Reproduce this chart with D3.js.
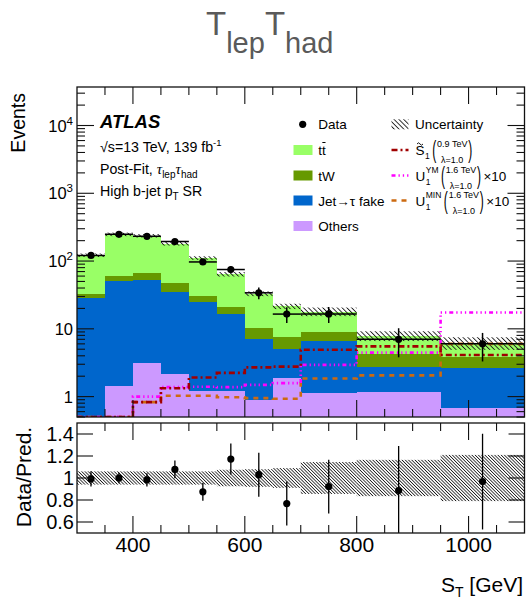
<!DOCTYPE html>
<html>
<head>
<meta charset="utf-8">
<script src="https://cdn.jsdelivr.net/npm/d3@7"></script>
<style>
  body { margin: 0; background: #fff; }
  svg { display: block; }
  text { font-family: "Liberation Sans", Arial, Helvetica, sans-serif; fill: #000; }
</style>
</head>
<body>
<svg id="chart" width="528" height="599"></svg>
<script>
// S_T bins (GeV)
const binEdges = [300, 350, 400, 450, 500, 550, 600, 650, 700, 800, 950, 1100];

// Post-fit background yields per bin
const others  = [0.3, 1.45, 3.1, 2.16, 1.19, 1.19, 0.89, 1.87, 1.12, 1.16, 0.67];
const jetFake = [28.1, 49.5, 49.9, 32.2, 24.1, 15.3, 6.16, 3.13, 5.58, 1.61, 2.01];
const tW      = [4.5, 10, 13, 13.6, 5.7, 4.8, 3.15, 2.5, 2.4, 1.46, 1.22];
const ttbar   = [89, 187, 170, 132, 80, 42.7, 22.8, 14, 8.9, 3.67, 2.3];

// Relative background uncertainty per bin
const bkgRelUnc = [0.06, 0.06, 0.06, 0.06, 0.06, 0.075, 0.08, 0.09, 0.145, 0.165, 0.21];

// Observed data and its uncertainty
const dataCounts = [121, 248, 232, 194, 97, 75, 34, 16.5, 16.6, 7.0, 6.0];
const dataErr    = [8.5, 12, 14, 14.4, 8.9, 9, 6.6, 4.3, 4.4, 3.2, 2.7];

// Signal hypotheses (U1 ones scaled by 10)
const sigS1    = [0.3, 0.3, 0.83, 1.33, 1.91, 2.24, 2.7, 2.77, 4.9, 5.5, 4.1];
const sigU1YM  = [0.3, 0.3, 1.0, 1.38, 1.4, 1.38, 1.49, 1.58, 2.94, 4.46, 17.4];
const sigU1MIN = [0.3, 0.3, 0.83, 1.03, 1.03, 0.98, 0.95, 0.93, 1.85, 2.06, 6.0];

// Axis tick values
const xLabelTicks = [400, 600, 800, 1000];
const yLogLabels = [1, 10, 100, 1000, 10000];
const ratioTicks = [0.6, 0.8, 1, 1.2, 1.4];

const svg = d3.select("#chart");
const X0 = 77, X1 = 524.5;
const TY0 = 87, TY1 = 417;     // main panel
const RY0 = 423, RY1 = 533;    // ratio panel
const yMin = 0.5, yMax = 3.7e4;

const x = d3.scaleLinear().domain([300, 1100]).range([X0, X1]);
const y = d3.scaleLog().domain([yMin, yMax]).range([TY1, TY0]).clamp(true);
const yr = d3.scaleLinear().domain([0.5, 1.5]).range([RY1, RY0]);

const defs = svg.append("defs");
function hatch(id, spacing, sw) {
  const p = defs.append("pattern").attr("id", id)
    .attr("patternUnits", "userSpaceOnUse")
    .attr("width", spacing).attr("height", spacing)
    .attr("patternTransform", "rotate(-45)");
  p.append("rect").attr("x", 0).attr("y", 0).attr("width", sw).attr("height", spacing).attr("fill", "#1a1a1a");
}
hatch("hatchTop", 3.4, 0.9);
hatch("hatchRatio", 2.3, 0.8);
defs.append("clipPath").attr("id", "clipTop").append("rect")
  .attr("x", X0).attr("y", TY0).attr("width", X1 - X0).attr("height", TY1 - TY0);
defs.append("clipPath").attr("id", "clipRatio").append("rect")
  .attr("x", X0).attr("y", RY0).attr("width", X1 - X0).attr("height", RY1 - RY0);

// ---------- Title ----------
const titleColor = "#5a5a5a";
const title = svg.append("text").attr("x", 206).attr("y", 35);
title.append("tspan").attr("font-size", 33).text("T").style("fill", titleColor);
title.append("tspan").attr("font-size", 29).attr("dy", 18).text("lep").style("fill", titleColor);
title.append("tspan").attr("font-size", 33).attr("dy", -18).text("T").style("fill", titleColor);
title.append("tspan").attr("font-size", 29).attr("dy", 18).text("had").style("fill", titleColor);

// ---------- Stacked backgrounds ----------
const keys = ["others", "jetFake", "tW", "ttbar"];
const colors = { others: "#cc99ff", jetFake: "#0066cc", tW: "#669900", ttbar: "#99ff66" };
const rows = binEdges.slice(0, -1).map((lo, i) => ({
  lo, hi: binEdges[i + 1], others: others[i], jetFake: jetFake[i], tW: tW[i], ttbar: ttbar[i]
}));
const series = d3.stack().keys(keys)(rows);
const totals = rows.map(r => keys.reduce((s, k) => s + r[k], 0));

const gTop = svg.append("g").attr("clip-path", "url(#clipTop)");
series.forEach(s => {
  gTop.append("g").selectAll("rect").data(s).enter().append("rect")
    .attr("x", d => x(d.data.lo))
    .attr("width", d => x(d.data.hi) - x(d.data.lo) + 0.4)
    .attr("y", d => y(Math.max(d[1], yMin)))
    .attr("height", d => y(Math.max(d[0], yMin)) - y(Math.max(d[1], yMin)))
    .attr("fill", colors[s.key])
    .attr("shape-rendering", "crispEdges");
});

// Uncertainty band on the total
gTop.append("g").selectAll("rect").data(rows).enter().append("rect")
  .attr("x", d => x(d.lo))
  .attr("width", d => x(d.hi) - x(d.lo))
  .attr("y", (d, i) => y(totals[i] * (1 + bkgRelUnc[i])))
  .attr("height", (d, i) => y(totals[i] * (1 - bkgRelUnc[i])) - y(totals[i] * (1 + bkgRelUnc[i])))
  .attr("fill", "url(#hatchTop)");

// Signal step lines
function stepPoints(vals) {
  const pts = [];
  vals.forEach((v, i) => { pts.push([binEdges[i], v]); pts.push([binEdges[i + 1], v]); });
  return pts;
}
const stepLine = d3.line().x(d => x(d[0])).y(d => y(d[1]));
const signals = [
  { vals: sigU1MIN, color: "#cc6a10", dash: "5,5" },
  { vals: sigU1YM, color: "#ff00ff", dash: "4,3,1.3,3,1.3,3,1.3,3" },
  { vals: sigS1, color: "#a00000", dash: "6,3,2,3" }
];
signals.forEach(s => {
  gTop.append("path").attr("d", stepLine(stepPoints(s.vals)))
    .attr("fill", "none").attr("stroke", s.color).attr("stroke-width", 2.6)
    .attr("stroke-dasharray", s.dash);
});

// Data points
const gData = svg.append("g").attr("clip-path", "url(#clipTop)");
rows.forEach((r, i) => {
  const cx = x((r.lo + r.hi) / 2), cy = y(dataCounts[i]);
  gData.append("line").attr("x1", x(r.lo)).attr("x2", x(r.hi)).attr("y1", cy).attr("y2", cy)
    .attr("stroke", "#000").attr("stroke-width", 1.5);
  gData.append("line").attr("x1", cx).attr("x2", cx)
    .attr("y1", y(dataCounts[i] + dataErr[i])).attr("y2", y(dataCounts[i] - dataErr[i]))
    .attr("stroke", "#000").attr("stroke-width", 1.5);
  gData.append("circle").attr("cx", cx).attr("cy", cy).attr("r", 3.6).attr("fill", "#000");
});

// ---------- Ratio panel ----------
const gR = svg.append("g").attr("clip-path", "url(#clipRatio)");
gR.selectAll("rect.band").data(rows).enter().append("rect")
  .attr("x", d => x(d.lo))
  .attr("width", d => x(d.hi) - x(d.lo))
  .attr("y", (d, i) => yr(1 + bkgRelUnc[i]))
  .attr("height", (d, i) => yr(1 - bkgRelUnc[i]) - yr(1 + bkgRelUnc[i]))
  .attr("fill", "url(#hatchRatio)");
rows.forEach((r, i) => {
  const cx = x((r.lo + r.hi) / 2);
  const ratio = dataCounts[i] / totals[i], err = dataErr[i] / totals[i];
  gR.append("line").attr("x1", cx).attr("x2", cx)
    .attr("y1", yr(ratio + err)).attr("y2", yr(ratio - err))
    .attr("stroke", "#000").attr("stroke-width", 1.3);
  gR.append("circle").attr("cx", cx).attr("cy", yr(ratio)).attr("r", 3.6).attr("fill", "#000");
});

// ---------- Frames and ticks ----------
const axisColor = "#111";
function frame(y0, y1) {
  svg.append("rect").attr("x", X0).attr("y", y0).attr("width", X1 - X0).attr("height", y1 - y0)
    .attr("fill", "none").attr("stroke", axisColor).attr("stroke-width", 1.3);
}
frame(TY0, TY1);
frame(RY0, RY1);

const xTickVals = d3.range(350, 1100, 50);
function xTicks(y0, y1) {
  xTickVals.forEach(v => {
    const len = v % 200 === 0 ? 17 : 8;
    const px = x(v);
    svg.append("line").attr("x1", px).attr("x2", px).attr("y1", y1).attr("y2", y1 - len)
      .attr("stroke", axisColor).attr("stroke-width", 1.1);
    svg.append("line").attr("x1", px).attr("x2", px).attr("y1", y0).attr("y2", y0 + len)
      .attr("stroke", axisColor).attr("stroke-width", 1.1);
  });
}
xTicks(TY0, TY1);
xTicks(RY0, RY1);

// log y ticks
const logTicks = [];
for (let e = -1; e <= 4; e++) {
  for (let m = 1; m <= 9; m++) {
    const v = m * Math.pow(10, e);
    if (v >= yMin && v <= yMax) logTicks.push({ v, major: m === 1 });
  }
}
logTicks.forEach(t => {
  const py = y(t.v), len = t.major ? 17 : 8;
  svg.append("line").attr("x1", X0).attr("x2", X0 + len).attr("y1", py).attr("y2", py)
    .attr("stroke", axisColor).attr("stroke-width", 1.1);
  svg.append("line").attr("x1", X1).attr("x2", X1 - len).attr("y1", py).attr("y2", py)
    .attr("stroke", axisColor).attr("stroke-width", 1.1);
});
yLogLabels.forEach(v => {
  const e = Math.round(Math.log10(v));
  const t = svg.append("text").attr("x", 73).attr("y", y(v) + 6).attr("text-anchor", "end").attr("font-size", 16.5);
  if (e <= 1) t.text(String(v));
  else {
    t.append("tspan").text("10");
    t.append("tspan").attr("font-size", 11.5).attr("dy", -7).text(String(e));
  }
});

ratioTicks.forEach(v => {
  const py = yr(v);
  svg.append("line").attr("x1", X0).attr("x2", X0 + 16).attr("y1", py).attr("y2", py)
    .attr("stroke", axisColor).attr("stroke-width", 1.1);
  svg.append("line").attr("x1", X1).attr("x2", X1 - 16).attr("y1", py).attr("y2", py)
    .attr("stroke", axisColor).attr("stroke-width", 1.1);
  svg.append("text").attr("x", 74).attr("y", py + 7).attr("text-anchor", "end")
    .attr("font-size", 20).text(d3.format("~g")(v));
});

xLabelTicks.forEach(v => {
  svg.append("text").attr("x", x(v)).attr("y", 552).attr("text-anchor", "middle")
    .attr("font-size", 21).text(String(v));
});

// Axis titles
svg.append("text").attr("transform", "translate(25,93) rotate(-90)")
  .attr("text-anchor", "end").attr("font-size", 19.5).text("Events");
svg.append("text").attr("transform", "translate(31,477) rotate(-90)")
  .attr("text-anchor", "middle").attr("font-size", 21).text("Data/Pred.");
const xt = svg.append("text").attr("x", 523).attr("y", 592).attr("text-anchor", "end").attr("font-size", 21);
xt.append("tspan").text("S");
xt.append("tspan").attr("font-size", 14).attr("dy", 5).text("T");
xt.append("tspan").attr("dy", -5).text(" [GeV]");

// ---------- ATLAS label block ----------
svg.append("text").attr("x", 100).attr("y", 128).attr("font-size", 18.5)
  .attr("font-weight", "bold").attr("font-style", "italic").text("ATLAS");
const l1 = svg.append("text").attr("x", 100).attr("y", 152).attr("font-size", 14.2);
l1.append("tspan").text("√s=13 TeV, 139 fb");
l1.append("tspan").attr("font-size", 9.5).attr("dy", -6).text("-1");
const l2 = svg.append("text").attr("x", 100).attr("y", 174).attr("font-size", 14.2);
l2.append("tspan").text("Post-Fit, ");
l2.append("tspan").style("font-family", "'Liberation Serif', serif").attr("font-style", "italic").attr("font-size", 15).text("τ");
l2.append("tspan").attr("font-size", 10).attr("dy", 4).text("lep");
l2.append("tspan").style("font-family", "'Liberation Serif', serif").attr("font-style", "italic").attr("font-size", 15).attr("dy", -4).text("τ");
l2.append("tspan").attr("font-size", 10).attr("dy", 4).text("had");
const l3 = svg.append("text").attr("x", 100).attr("y", 196).attr("font-size", 14.2);
l3.append("tspan").text("High b-jet p");
l3.append("tspan").attr("font-size", 10).attr("dy", 4).text("T");
l3.append("tspan").attr("dy", -4).text(" SR");

// ---------- Legend ----------
const LF = 13.5;
const rowY = [124.3, 150, 175.5, 200.5, 226];
const leftEntries = [
  { label: "Data", type: "data" },
  { label: "tt", type: "box", key: "ttbar", bar: true },
  { label: "tW", type: "box", key: "tW" },
  { label: "Jet→τ fake", type: "box", key: "jetFake" },
  { label: "Others", type: "box", key: "others" }
];
leftEntries.forEach((e, i) => {
  const cy = rowY[i];
  if (e.type === "data") {
    svg.append("circle").attr("cx", 302.7).attr("cy", cy).attr("r", 3.6).attr("fill", "#000");
  } else {
    svg.append("rect").attr("x", 293.5).attr("y", cy - 5).attr("width", 19).attr("height", 10)
      .attr("fill", colors[e.key]);
  }
  const t = svg.append("text").attr("x", 318.3).attr("y", cy + 5).attr("font-size", LF).text(e.label);
  if (e.bar) {
    const n = t.node();
    const s = n.getStartPositionOfChar(1).x, en = n.getEndPositionOfChar(1).x;
    svg.append("line").attr("x1", s + 0.3).attr("x2", en - 0.3).attr("y1", cy - 7.5).attr("y2", cy - 7.5)
      .attr("stroke", "#000").attr("stroke-width", 1);
  }
});

// Uncertainty
svg.append("rect").attr("x", 391.5).attr("y", rowY[0] - 5).attr("width", 17).attr("height", 10)
  .attr("fill", "url(#hatchTop)");
svg.append("text").attr("x", 415).attr("y", rowY[0] + 5).attr("font-size", LF).text("Uncertainty");

// Signal legend entries, laid out left to right with a running cursor
function sigEntry(cy, sample, main, sup, mass, scale) {
  svg.append("line").attr("x1", 391.5).attr("x2", 408.5).attr("y1", cy).attr("y2", cy)
    .attr("stroke", sample.color).attr("stroke-width", 2.6).attr("stroke-dasharray", sample.dash);
  let cur = 415.5;
  const m = svg.append("text").attr("x", cur).attr("y", cy + 5).attr("font-size", LF).text(main);
  const mw = m.node().getComputedTextLength();
  if (!sup) {
    // tilde accent over the S
    const tx = cur + mw / 2;
    svg.append("path")
      .attr("d", `M${tx - 3},${cy - 6} q1.5,-2.4 3,0 t3,0`)
      .attr("fill", "none").attr("stroke", "#000").attr("stroke-width", 0.9);
  }
  cur += mw + 0.5;
  let sw = 0;
  if (sup) {
    const s = svg.append("text").attr("x", cur).attr("y", cy - 2.5).attr("font-size", 8.5).text(sup);
    sw = s.node().getComputedTextLength();
  }
  const sb = svg.append("text").attr("x", cur).attr("y", cy + 9).attr("font-size", 8.5).text("1");
  sw = Math.max(sw, sb.node().getComputedTextLength());
  cur += sw + 2.5;
  // tall opening parenthesis
  const po = svg.append("text").attr("transform", `translate(${cur},${cy}) scale(1,2.0)`)
    .attr("x", 0).attr("y", 4.2).attr("font-size", 12).text("(");
  cur += po.node().getComputedTextLength() + 0.8;
  const top = svg.append("text").attr("x", cur).attr("y", cy - 3).attr("font-size", 9).text(mass);
  const tw = top.node().getComputedTextLength();
  const bot = svg.append("text").attr("x", cur + tw / 2).attr("y", cy + 13).attr("font-size", 9)
    .attr("text-anchor", "middle").text("λ=1.0");
  cur += Math.max(tw, bot.node().getComputedTextLength()) + 0.8;
  const pc = svg.append("text").attr("transform", `translate(${cur},${cy}) scale(1,2.0)`)
    .attr("x", 0).attr("y", 4.2).attr("font-size", 12).text(")");
  cur += pc.node().getComputedTextLength() + 2.5;
  if (scale) svg.append("text").attr("x", cur).attr("y", cy + 5).attr("font-size", LF).text(scale);
}
sigEntry(rowY[1], signals[2], "S", null, "0.9 TeV", null);
sigEntry(rowY[2], signals[1], "U", "YM", "1.6 TeV", "×10");
sigEntry(rowY[3], signals[0], "U", "MIN", "1.6 TeV", "×10");
</script>
</body>
</html>
